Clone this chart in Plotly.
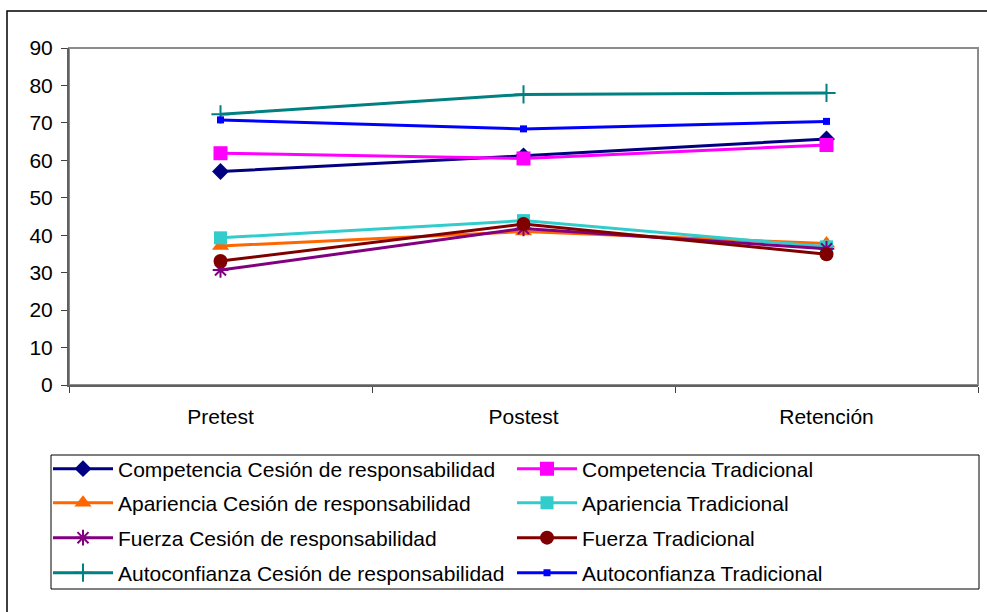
import plotly.graph_objects as go

categories = ["Pretest", "Postest", "Retención"]

comp_cesion = [57.0, 61.2, 65.7]
comp_trad = [61.9, 60.5, 64.1]
apar_cesion = [37.1, 41.0, 37.8]
apar_trad = [39.3, 43.9, 36.9]
fuerza_cesion = [30.7, 41.8, 36.4]
fuerza_trad = [33.1, 43.0, 34.9]
auto_cesion = [72.3, 77.6, 78.0]
auto_trad = [70.8, 68.4, 70.4]

series_names = [
    "Competencia Cesión de responsabilidad",
    "Competencia Tradicional",
    "Apariencia Cesión de responsabilidad",
    "Apariencia Tradicional",
    "Fuerza Cesión de responsabilidad",
    "Fuerza Tradicional",
    "Autoconfianza Cesión de responsabilidad",
    "Autoconfianza Tradicional",
]
series_values = [comp_cesion, comp_trad, apar_cesion, apar_trad,
                 fuerza_cesion, fuerza_trad, auto_cesion, auto_trad]

colors = ["#000080", "#FF00FF", "#FF6600", "#33CCCC",
          "#800080", "#800000", "#008080", "#0000FF"]
symbols = ["diamond", "square", "triangle-up", "square",
           "asterisk-open", "circle", "cross-thin-open", "square"]
sizes = [13, 14, 15, 13, 13, 14, 13, 7]

FONT = "Liberation Sans, Arial, sans-serif"
FS = 21

W, H = 987, 612
L, R, T, B = 69, 9, 48, 227
pw = W - L - R
ph = H - T - B

def px_x(x):
    return (x - L) / pw

def px_y(y):
    return (H - B - y) / ph

fig = go.Figure()

row_y = [469, 503, 538, 573]
col_x = [48, 512]

for i, (name, vals) in enumerate(zip(series_names, series_values)):
    legname = "legend" if i == 0 else f"legend{i+1}"
    sym = symbols[i]
    marker = dict(symbol=sym, size=sizes[i], color=colors[i],
                  line=dict(color=colors[i], width=2 if "open" in sym else 0))
    fig.add_trace(go.Scatter(
        x=categories, y=vals, name=name, mode="lines+markers",
        line=dict(color=colors[i], width=3),
        marker=marker, legend=legname, cliponaxis=False,
    ))

legends = {}
for i in range(8):
    legname = "legend" if i == 0 else f"legend{i+1}"
    r, c = divmod(i, 2)
    legends[legname] = dict(
        x=px_x(col_x[c]), y=px_y(row_y[r]), xanchor="left", yanchor="middle",
        xref="paper", yref="paper",
        bgcolor="rgba(0,0,0,0)", borderwidth=0,
        font=dict(family=FONT, size=FS, color="black"),
        itemwidth=60,
    )

fig.update_layout(
    width=W, height=H,
    margin=dict(l=L, r=R, t=T, b=B, autoexpand=False),
    paper_bgcolor="white", plot_bgcolor="white",
    font=dict(family=FONT, size=FS, color="black"),
    showlegend=True,
    hovermode=False,
    **legends,
    xaxis=dict(
        type="category", range=[-0.5, 2.5],
        showgrid=False, zeroline=False,
        showline=True, linecolor="#606060", linewidth=2,
        ticks="outside", ticklen=6, tickwidth=1, tickcolor="#404040",
        tickson="boundaries", ticklabelstandoff=12,
        tickfont=dict(family=FONT, size=FS, color="black"),
    ),
    yaxis=dict(
        range=[0, 90], dtick=10, tick0=0,
        showgrid=False, zeroline=False,
        showline=True, linecolor="#606060", linewidth=2,
        ticks="outside", ticklen=6, tickwidth=1, tickcolor="#404040",
        ticklabelstandoff=4,
        tickfont=dict(family=FONT, size=FS, color="black"),
    ),
    shapes=[
        # plot area border
        dict(type="rect", xref="paper", yref="paper", x0=0, x1=1, y0=0, y1=1,
             line=dict(color="#8C8C8C", width=2), layer="below"),
        # legend box
        dict(type="rect", xref="paper", yref="paper",
             x0=px_x(51), x1=px_x(979), y0=px_y(589), y1=px_y(455),
             line=dict(color="black", width=1)),
        # outer chart frame
        dict(type="rect", xref="paper", yref="paper",
             x0=px_x(7), x1=px_x(995), y0=px_y(620), y1=px_y(11),
             line=dict(color="black", width=1.5)),
    ],
)

fig.write_html(
    "out.html",
    config={"displayModeBar": False},
    post_script="document.body.style.margin='0px';document.body.style.overflow='hidden';",
)
